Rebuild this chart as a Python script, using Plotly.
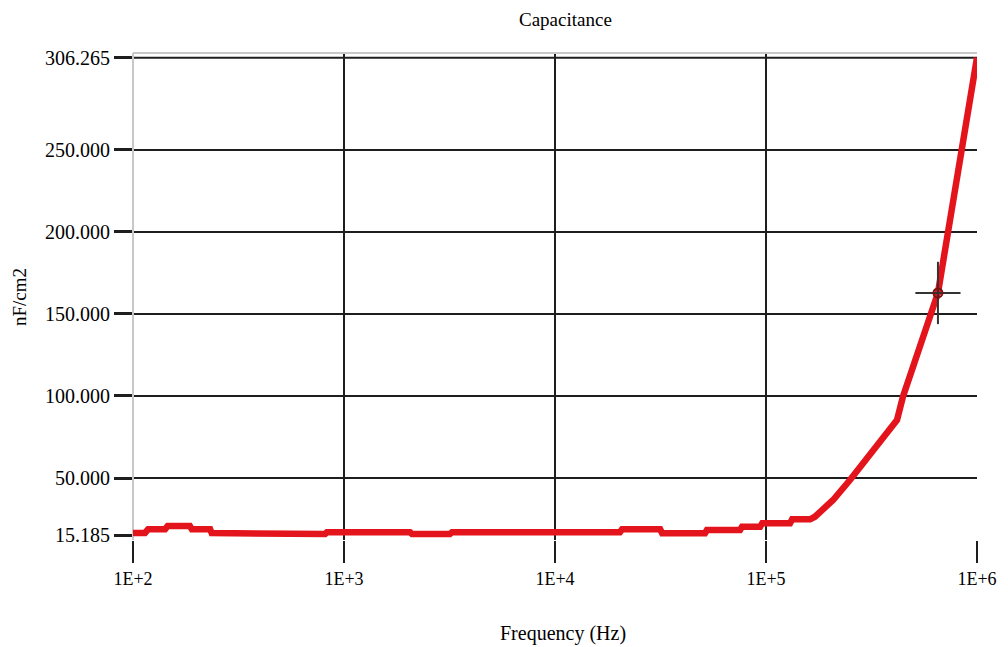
import plotly.graph_objects as go

# Measured capacitance vs. frequency
freq_hz = [100, 114, 118, 142, 146, 186, 190, 232, 236, 514, 525, 813, 830,
           2056, 2100, 3177, 3250, 20300, 20800, 31500, 32200, 51400, 52500,
           75300, 77000, 93800, 96000, 130000, 133000, 161800, 170600, 208000,
           250000, 346700, 417800, 445700, 598000, 653000, 729000, 849000, 1000000]
cap_nf_cm2 = [16.5, 16.5, 18.8, 18.8, 20.7, 20.7, 18.8, 18.8, 16.5, 16.5, 15.8,
              15.8, 16.9, 16.9, 15.9, 15.9, 16.9, 16.9, 18.7, 18.7, 16.3, 16.3,
              18.3, 18.3, 20.3, 20.3, 22.4, 22.4, 24.8, 24.8, 26.4, 36.6, 48.8,
              73.0, 85.4, 99.6, 149.4, 162.8, 200.0, 250.0, 306.265]

# Axis ticks
y_ticks = [15.185, 50, 100, 150, 200, 250, 306.265]
y_tick_text = ["15.185", "50.000", "100.000", "150.000", "200.000", "250.000", "306.265"]
x_ticks = [1e2, 1e3, 1e4, 1e5, 1e6]
x_tick_text = ["1E+2", "1E+3", "1E+4", "1E+5", "1E+6"]

# Readout cursor
cursor_freq = 653000
cursor_value = 162.8
cursor_half_decades = 0.107
cursor_half_value = 19.0

FONT = "Liberation Serif"
RED = "#e3141b"
GRID = "#1e1e1e"

fig = go.Figure()

fig.add_trace(go.Scatter(
    x=freq_hz, y=cap_nf_cm2, mode="lines",
    line=dict(color=RED, width=6.5), hoverinfo="x+y", showlegend=False,
))

# cursor crosshair
cf_lo = cursor_freq / 10 ** cursor_half_decades
cf_hi = cursor_freq * 10 ** cursor_half_decades
fig.add_trace(go.Scatter(
    x=[cf_lo, cf_hi], y=[cursor_value, cursor_value], mode="lines",
    line=dict(color="#333333", width=2), showlegend=False, hoverinfo="skip",
))
fig.add_trace(go.Scatter(
    x=[cursor_freq, cursor_freq],
    y=[cursor_value - cursor_half_value, cursor_value + cursor_half_value],
    mode="lines", line=dict(color="#333333", width=2), showlegend=False,
    hoverinfo="skip",
))
fig.add_trace(go.Scatter(
    x=[cursor_freq], y=[cursor_value], mode="markers",
    marker=dict(symbol="circle-open", size=9, color="#7a1010",
                line=dict(width=2, color="#7a1010")),
    showlegend=False,
))

shapes = []
# horizontal grid lines (none at the lowest tick)
for v in y_ticks[1:]:
    shapes.append(dict(type="line", xref="paper", yref="y", x0=0, x1=1, y0=v, y1=v,
                       line=dict(color=GRID, width=2), layer="below"))
# vertical grid lines at the inner decades
for f in x_ticks[1:-1]:
    shapes.append(dict(type="line", xref="x", yref="paper", x0=f, x1=f, y0=0, y1=1,
                       line=dict(color=GRID, width=2), layer="below"))
# light frame on the left and top
shapes.append(dict(type="line", xref="paper", yref="paper", x0=0, x1=0, y0=0, y1=1,
                   line=dict(color="#c8c8c8", width=2), layer="below"))
shapes.append(dict(type="line", xref="paper", yref="paper", x0=0, x1=1, y0=1, y1=1,
                   line=dict(color="#c8c8c8", width=2), layer="below"))

fig.update_layout(
    width=1008, height=647,
    margin=dict(l=133, r=31, t=53, b=107),
    paper_bgcolor="white", plot_bgcolor="white",
    font=dict(family=FONT, size=19, color="black"),
    shapes=shapes,
    xaxis=dict(
        type="log", range=[2, 6], tickvals=x_ticks, ticktext=x_tick_text,
        showgrid=False, zeroline=False, showline=False,
        ticks="outside", ticklen=22, tickwidth=2, tickcolor="#1e1e1e",
        tickfont=dict(family=FONT, size=18),
    ),
    yaxis=dict(
        range=[12.2, 309.1], tickvals=y_ticks, ticktext=y_tick_text,
        showgrid=False, zeroline=False, showline=False,
        ticks="outside", ticklen=18, tickwidth=3, tickcolor="#1e1e1e",
        tickfont=dict(family=FONT, size=20),
    ),
    annotations=[
        dict(text="Capacitance", xref="paper", yref="paper", x=0.512, y=1.068,
             xanchor="center", yanchor="middle", showarrow=False,
             font=dict(family=FONT, size=19)),
        dict(text="Frequency (Hz)", xref="paper", yref="paper", x=0.5095, y=-0.193,
             xanchor="center", yanchor="middle", showarrow=False,
             font=dict(family=FONT, size=20)),
        dict(text="nF/cm2", xref="paper", yref="paper", x=-0.1339, y=0.499,
             xanchor="center", yanchor="middle", textangle=-90, showarrow=False,
             font=dict(family=FONT, size=19)),
    ],
)

fig.write_html("out.html")
